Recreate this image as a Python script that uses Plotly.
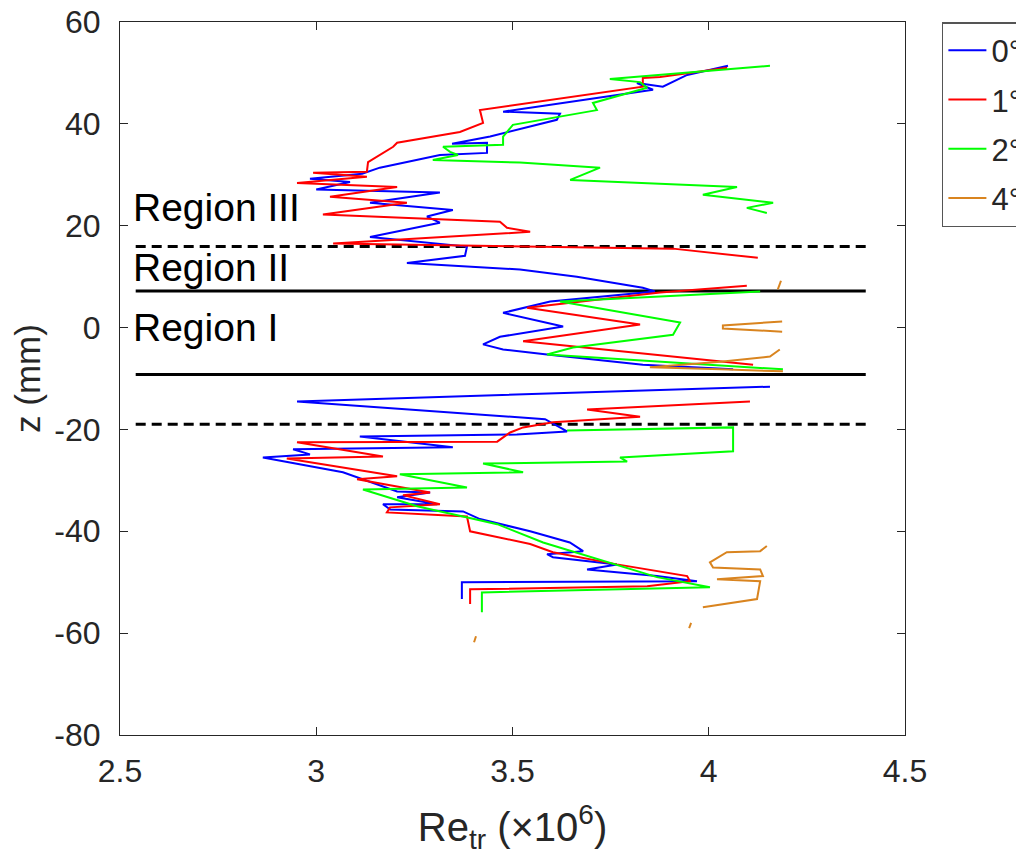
import plotly.graph_objects as go

# ---------------- data (Re_tr in 1e6, z in mm) ----------------
re_0 = [4.049, 3.945, 3.883, 3.817, 3.858, 3.476, 3.621, 3.613, 3.443, 3.346, 3.435, 3.435,
        3.315, 3.162, 3.117, 2.984, 3.086, 3.000, 3.315, 3.137, 3.348, 3.282, 3.315, 3.137,
        3.384, 3.379, 3.231, 3.519, 3.664, 3.832, 3.863, 3.596, 3.476, 3.629, 3.468, 3.425,
        3.476, 3.588, 3.832, 4.062, None, 4.156, 2.951, 3.583, 3.639, 3.511, 3.111, 3.348,
        2.941, 2.984, 2.864, 3.068, 3.206, 3.290, 3.206, 3.308, 3.170, 3.188, 3.374, 3.417,
        3.545, 3.646, 3.680, 3.588, 3.603, 3.766, 3.690, 3.868, 3.970, 3.371, 3.371]
z_0 = [51.4, 49.6, 47.3, 48.0, 46.7, 42.4, 42.0, 40.8, 37.5, 36.1, 36.3, 34.3,
       33.9, 31.4, 30.2, 29.2, 28.6, 27.1, 26.5, 24.5, 23.1, 21.8, 20.6, 17.8,
       15.9, 14.1, 12.7, 11.4, 10.0, 7.8, 7.1, 5.1, 2.9, 0.2, -1.8, -3.3,
       -4.3, -5.3, -7.3, -8.2, None, -11.6, -14.5, -18.0, -20.4, -21.0, -21.4, -23.5,
       -23.9, -24.9, -25.5, -28.4, -32.2, -32.4, -33.3, -34.7, -34.7, -35.7, -36.1, -37.6,
       -40.0, -42.2, -43.9, -44.5, -45.1, -46.5, -47.5, -48.8, -49.8, -50.0, -53.3]

re_1 = [4.047, 3.876, 3.832, 3.832, 3.417, 3.425, 3.366, 3.206, 3.196, 3.132, 3.129, 2.992,
        3.129, 2.951, 3.206, 3.035, 3.231, 3.017, 3.468, 3.486, 3.545, 3.043, 3.909, 4.125,
        None, 4.097, 3.876, 3.537, 3.825, 3.527, 3.909, 4.113, None, 4.105, 3.690, 3.825,
        3.603, 3.527, 3.494, 3.461, 2.951, 3.170, 2.925, 3.206, 3.104, 3.290, 3.221, 3.315,
        3.188, 3.180, 3.384, 3.392, 3.545, 3.603, 3.766, 3.945, 3.952, 3.843, 3.392, 3.392]
z_1 = [51.0, 49.2, 49.0, 47.3, 42.7, 40.2, 38.4, 36.3, 35.5, 32.5, 30.6, 30.4,
       29.6, 28.4, 27.6, 25.7, 24.5, 22.2, 20.8, 19.6, 18.8, 16.5, 15.5, 13.7,
       None, 8.2, 6.9, 3.9, 0.6, -2.7, -5.7, -7.3, None, -14.5, -16.1, -17.5,
       -18.6, -19.6, -20.6, -22.4, -22.5, -25.3, -25.7, -29.2, -29.8, -32.4, -32.9, -34.7,
       -35.3, -36.3, -37.1, -40.0, -42.5, -44.1, -46.5, -48.8, -49.8, -50.8, -51.4, -54.3]

re_2 = [4.156, 3.748, 3.825, 3.843, 3.705, 3.715, 3.501, 3.476, 3.476, 3.323, 3.341, 3.361,
        3.297, 3.519, 3.723, 3.647, 4.072, 3.985, 4.164, 4.097, 4.148,
        None, 4.131, 3.621, 3.927, 3.909, 3.654, 3.588, 4.189,
        None, 3.639, 4.062, 4.062, 4.062, 3.774, 3.792, 3.425, 3.527, 3.213, 3.384, 3.119,
        3.257, 3.374, 3.461, 3.578, 3.868, 4.003, 3.422, 3.422]
z_2 = [51.4, 48.8, 48.2, 47.1, 44.1, 42.7, 39.8, 37.5, 35.9, 35.5, 34.5, 33.9,
       32.9, 32.4, 31.4, 29.0, 27.6, 26.1, 24.5, 23.5, 22.5,
       None, 7.1, 5.1, 1.0, -1.4, -3.9, -5.3, -8.2,
       None, -20.2, -19.6, -22.4, -24.3, -25.5, -26.3, -26.7, -28.4, -28.8, -31.4, -31.8,
       -35.1, -37.1, -38.6, -42.2, -49.0, -51.0, -52.0, -55.9]

re_4 = [4.184, 4.176, None, 4.187, 4.036, 4.036, 4.187, None,
        4.181, 4.156, 4.030, 3.880, 3.850, 4.030, 4.189, None,
        4.148, 4.131, 4.046, 4.003, 4.011, 4.131, 4.138, 4.021, 4.131, 4.123, 3.985, None,
        3.955, 3.950, None, 3.407, 3.402]
z_4 = [9.2, 7.5, None, 1.2, 0.4, -0.2, -0.8, None,
       -4.3, -5.7, -6.7, -7.6, -7.8, -8.2, -8.6, None,
       -42.9, -43.9, -44.1, -46.1, -47.1, -47.5, -48.8, -49.4, -49.8, -53.3, -54.9, None,
       -58.0, -59.0, None, -60.6, -61.8]

series_names = ["0°", "1°", "2°", "4°"]
series_colors = ["#0000FF", "#FF0000", "#00FF00", "#D9841F"]

region_dashed_z = [15.9, -19.0]
region_solid_z = [7.2, -9.2]
region_line_re = [2.54, 4.4]
region_labels = ["Region III", "Region II", "Region I"]
region_label_z = [23.5, 11.8, 0.0]

x_ticks = [2.5, 3, 3.5, 4, 4.5]
y_ticks = [-80, -60, -40, -20, 0, 20, 40, 60]

# ---------------- figure ----------------
FONT = "Liberation Sans, Arial, sans-serif"
TXT = "#262626"

fig = go.Figure()

for zlev in region_dashed_z:
    fig.add_trace(go.Scatter(x=region_line_re, y=[zlev, zlev], mode="lines",
                             line=dict(color="black", width=3, dash="10px,6px"),
                             showlegend=False, hoverinfo="skip"))
for zlev in region_solid_z:
    fig.add_trace(go.Scatter(x=region_line_re, y=[zlev, zlev], mode="lines",
                             line=dict(color="black", width=3),
                             showlegend=False, hoverinfo="skip"))

for xs, ys, name, col in zip([re_0, re_1, re_2, re_4], [z_0, z_1, z_2, z_4],
                             series_names, series_colors):
    fig.add_trace(go.Scatter(x=xs, y=ys, mode="lines", name=name, legendgroup=name,
                             line=dict(color=col, width=2), connectgaps=False))

for lab, zl in zip(region_labels, region_label_z):
    fig.add_annotation(x=2.528, y=zl, xref="x", yref="y", text=lab, showarrow=False,
                       xanchor="left", yanchor="middle",
                       font=dict(family=FONT, size=39, color="black"))

fig.update_layout(
    width=1024, height=863,
    margin=dict(l=112, r=127, t=14, b=136, autoexpand=False),
    paper_bgcolor="white", plot_bgcolor="white",
    font=dict(family=FONT, color=TXT),
    showlegend=True,
    legend=dict(x=1.047, y=1.0, xanchor="left", yanchor="top",
                bordercolor="#555555", borderwidth=1.5, bgcolor="white",
                font=dict(family=FONT, size=31, color=TXT),
                tracegroupgap=6, itemwidth=38),
)

fig.update_xaxes(range=[2.5, 4.5], tickvals=x_ticks, ticktext=[str(v) for v in x_ticks],
                 showgrid=False, zeroline=False, showline=True, linecolor=TXT, linewidth=1,
                 mirror="ticks", ticks="inside", ticklen=8, tickcolor=TXT,
                 ticklabelstandoff=8, ticklabeloverflow="allow",
                 tickfont=dict(family=FONT, size=32, color=TXT),
                 title=dict(text="Re<sub>tr</sub> (×10<sup>6</sup>)",
                            font=dict(family=FONT, size=40, color=TXT), standoff=24))
fig.update_yaxes(range=[-80, 60], tickvals=y_ticks, ticktext=[str(v) for v in y_ticks],
                 showgrid=False, zeroline=False, showline=True, linecolor=TXT, linewidth=1,
                 mirror="ticks", ticks="inside", ticklen=8, tickcolor=TXT,
                 ticklabelstandoff=12, ticklabeloverflow="allow",
                 tickfont=dict(family=FONT, size=32, color=TXT),
                 title=dict(text="z (mm)", font=dict(family=FONT, size=35, color=TXT),
                            standoff=18))

fig.write_html("out.html")
